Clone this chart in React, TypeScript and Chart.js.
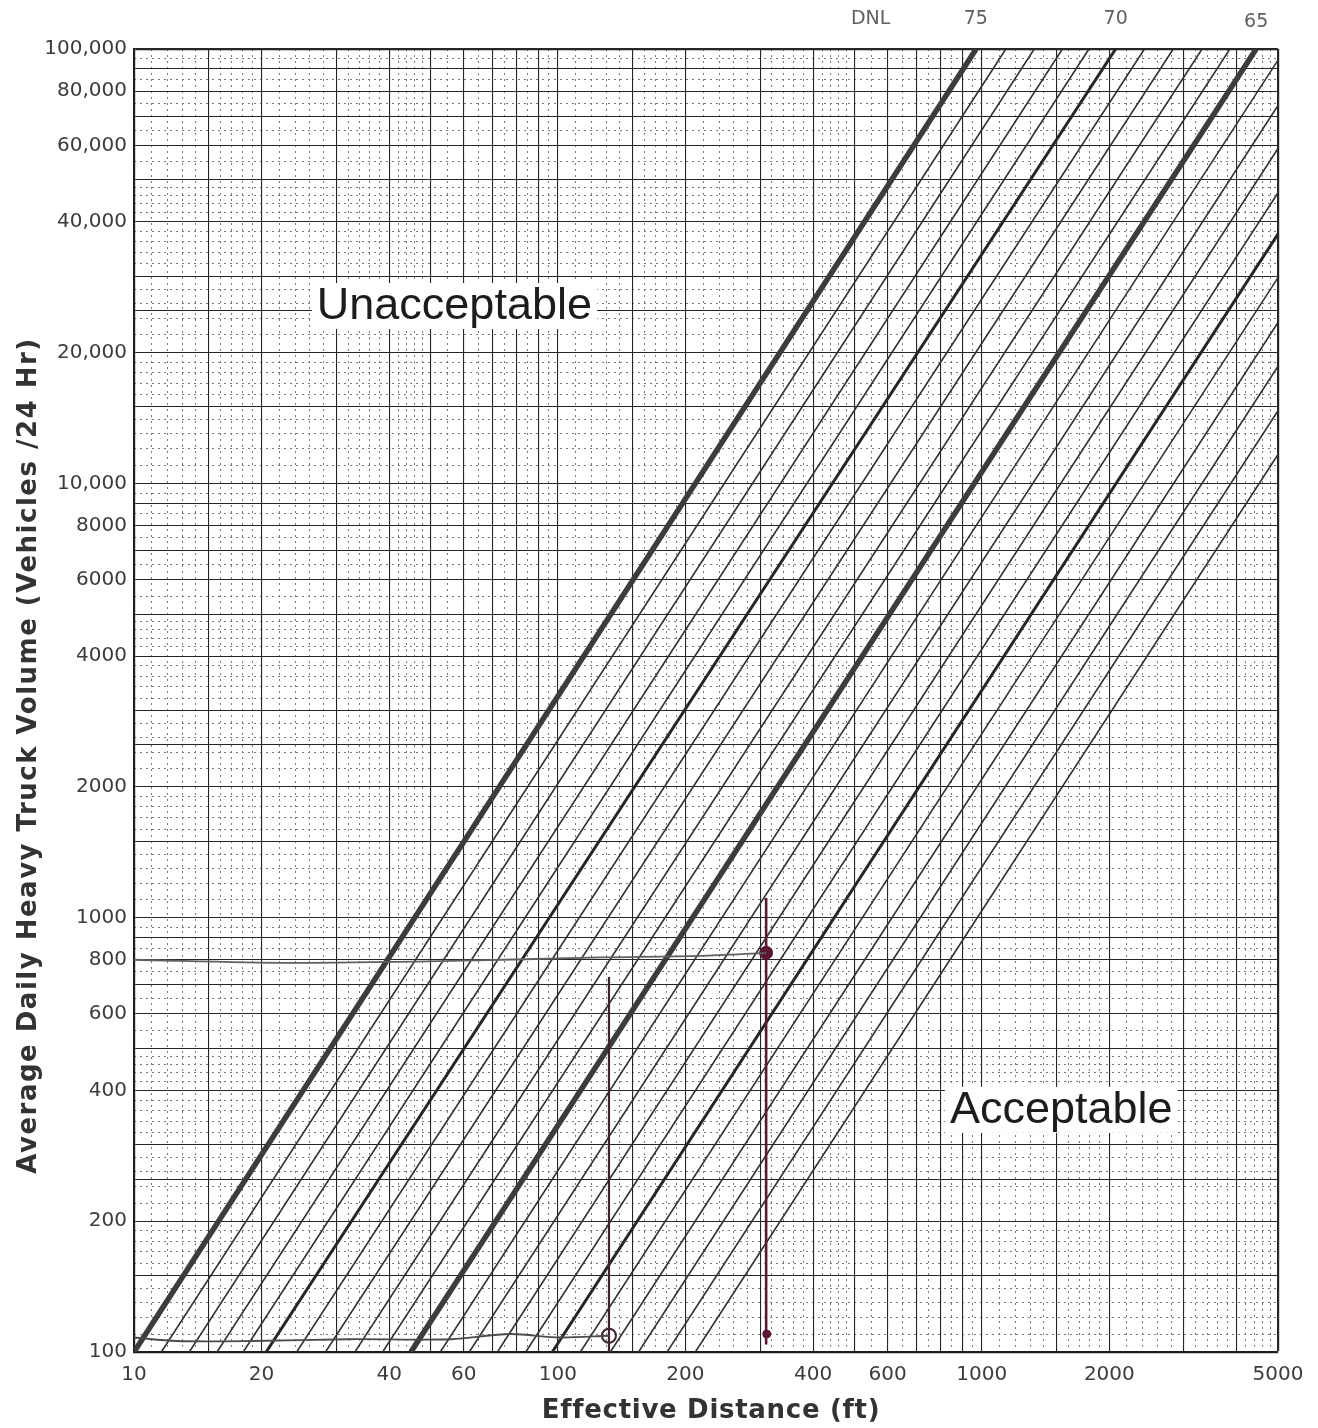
import React, { useEffect, useRef } from 'react';
import { Chart, registerables } from 'chart.js';

Chart.register(...registerables);

// ---------- axis ranges and tick labels ----------
const X_MIN = 10;
const X_MAX = 5000;
const Y_MIN = 100;
const Y_MAX = 100000;

const X_TICK_VALUES = [10, 20, 40, 60, 100, 200, 400, 600, 1000, 2000, 5000];
const X_TICK_LABELS = ['10', '20', '40', '60', '100', '200', '400', '600', '1000', '2000', '5000'];

const Y_TICK_VALUES = [100, 200, 400, 600, 800, 1000, 2000, 4000, 6000, 8000, 10000, 20000, 40000, 60000, 80000, 100000];
const Y_TICK_LABELS = ['100', '200', '400', '600', '800', '1000', '2000', '4000', '6000', '8000', '10,000', '20,000', '40,000', '60,000', '80,000', '100,000'];

// graph-paper rulings (mantissas within each decade)
const X_MAJOR_MANTISSAS = [1, 1.5, 2, 3, 4, 5, 6, 7, 8, 9];
const Y_MAJOR_MANTISSAS = [1, 1.5, 2, 2.5, 3, 4, 5, 6, 7, 8, 9];
const MINOR_MANTISSAS = [1.1, 1.2, 1.3, 1.4, 1.6, 1.7, 1.8, 1.9, 2.2, 2.4, 2.6, 2.8, 3.2, 3.4, 3.6, 3.8, 4.2, 4.4, 4.6, 4.8, 5.5, 6.5, 7.5, 8.5, 9.5];

// ---------- DNL lines ----------
const DNL_LEVELS = [75, 74, 73, 72, 71, 70, 69, 68, 67, 66, 65, 64, 63, 62, 61, 60, 59, 58, 57, 56, 55];
// effective distance (ft) where each DNL line crosses 100 vehicles/24 hr
const DIST_AT_LOW_VOLUME = [10, 11.6, 13.5, 15.7, 18.1, 20.5, 24.2, 28.3, 33.2, 38.6, 45, 52.8, 61.8, 72, 84, 97, 113, 133, 155, 181, 211];
// effective distance (ft) where each DNL line crosses 100,000 vehicles/24 hr
const DIST_AT_HIGH_VOLUME = [970, 1140, 1330, 1550, 1790, 2070, 2420, 2830, 3310, 3850, 4440, 5200, 6100, 7100, 8300, 9600, 11200, 13100, 15300, 17900, 20900];
const LINE_LOW_VOLUME = 100;
const LINE_HIGH_VOLUME = 100000;
const HEAVY_LEVELS = [75, 65];
const MEDIUM_LEVELS = [70, 60];

// ---------- hand-drawn worksheet traces ----------
const TRACE_800_DIST = [10, 23, 56, 126, 217, 310];
const TRACE_800_VOL = [800, 787, 795, 810, 817, 830];
const TRACE_110_DIST = [10, 12.6, 19, 32, 56, 77, 101, 132];
const TRACE_110_VOL = [108, 106, 106, 107, 107, 110, 108, 109];
const DROP_A_DIST = [132, 132];
const DROP_A_VOL = [730, 100];
const DROP_B_DIST = [310, 310];
const DROP_B_VOL = [1110, 104];
const DOT_BIG = { d: 310, v: 830 };
const DOT_SMALL = { d: 311, v: 110 };
const RING = { d: 132, v: 109 };

// ---------- text annotations ----------
const REGION_TEXT = ['Unacceptable', 'Acceptable'];
const REGION_DIST = [57, 1540];
const REGION_VOL = [25600, 361];
const HEADER_TEXT = ['DNL', '75', '70', '65'];
const HEADER_DIST = [547, 968, 2070, 4440];

const X_TITLE = 'Effective Distance (ft)';
const Y_TITLE = 'Average Daily Heavy Truck Volume (Vehicles /24 Hr)';

function rulings(min: number, max: number, mantissas: number[]) {
  const out: number[] = [];
  const e0 = Math.floor(Math.log10(min));
  const e1 = Math.ceil(Math.log10(max));
  for (let e = e0; e <= e1; e++) {
    for (const m of mantissas) {
      const v = parseFloat((m * Math.pow(10, e)).toPrecision(8));
      if (v >= min * 0.99999 && v <= max * 1.00001) out.push(v);
    }
  }
  return out;
}

function labelFor(v: number, values: number[], labels: string[]) {
  for (let i = 0; i < values.length; i++) {
    if (Math.abs(v - values[i]) < values[i] * 1e-6) return labels[i];
  }
  return '';
}

const overlayPlugin = {
  id: 'overlay',
  afterDatasetsDraw(chart: any) {
    const { ctx, chartArea } = chart;
    const xs = chart.scales.x;
    const ys = chart.scales.y;
    ctx.save();
    // region labels with white boxes
    ctx.font = '45px "Liberation Sans", Arial, sans-serif';
    ctx.textAlign = 'center';
    ctx.textBaseline = 'middle';
    for (let i = 0; i < REGION_TEXT.length; i++) {
      const px = xs.getPixelForValue(REGION_DIST[i]);
      const py = ys.getPixelForValue(REGION_VOL[i]);
      const w = ctx.measureText(REGION_TEXT[i]).width;
      ctx.fillStyle = '#ffffff';
      ctx.fillRect(px - w / 2 - 5, py - 23, w + 10, 46);
      ctx.fillStyle = '#1c1c1c';
      ctx.fillText(REGION_TEXT[i], px, py + 1);
    }
    // DNL header
    ctx.font = '19px "DejaVu Sans", sans-serif';
    ctx.fillStyle = '#606060';
    for (let i = 0; i < HEADER_TEXT.length; i++) {
      const px = xs.getPixelForValue(HEADER_DIST[i]);
      ctx.fillText(HEADER_TEXT[i], px, chartArea.top - 30 + (i === 3 ? 3 : 0));
    }
    // x-axis title
    ctx.font = 'bold 26px "DejaVu Sans", sans-serif';
    ctx.fillStyle = '#333333';
    (ctx as any).letterSpacing = '0.7px';
    ctx.fillText(X_TITLE, (chartArea.left + chartArea.right) / 2 + 5, chartArea.bottom + 59);
    // y-axis title
    (ctx as any).letterSpacing = '1.5px';
    ctx.translate(29, (chartArea.top + chartArea.bottom) / 2 + 55);
    ctx.rotate(-Math.PI / 2);
    ctx.fillText(Y_TITLE, 0, 0);
    (ctx as any).letterSpacing = '0px';
    ctx.restore();
  },
};

function buildConfig(): any {
  const xMajor = rulings(X_MIN, X_MAX, X_MAJOR_MANTISSAS);
  const yMajor = rulings(Y_MIN, Y_MAX, Y_MAJOR_MANTISSAS);
  const xMinor = rulings(X_MIN, X_MAX, MINOR_MANTISSAS);
  const yMinor = rulings(Y_MIN, Y_MAX, MINOR_MANTISSAS);

  const annotationSets: any[] = [
    {
      data: TRACE_800_DIST.map((d, i) => ({ x: d, y: TRACE_800_VOL[i] })),
      borderColor: '#5f5f66', borderWidth: 1.8, tension: 0.3, pointRadius: 0, order: 0,
    },
    {
      data: TRACE_110_DIST.map((d, i) => ({ x: d, y: TRACE_110_VOL[i] })),
      borderColor: '#4a4a50', borderWidth: 1.8, tension: 0.3, pointRadius: 0, order: 0,
    },
    {
      data: DROP_A_DIST.map((d, i) => ({ x: d, y: DROP_A_VOL[i] })),
      borderColor: '#3b2330', borderWidth: 2.2, pointRadius: 0, order: 0,
    },
    {
      data: DROP_B_DIST.map((d, i) => ({ x: d, y: DROP_B_VOL[i] })),
      borderColor: '#5a1835', borderWidth: 2.6, pointRadius: 0, order: 0,
    },
    {
      data: [{ x: DOT_BIG.d, y: DOT_BIG.v }],
      showLine: false, pointRadius: 6.5, pointBackgroundColor: '#5a1835', pointBorderColor: '#5a1835', order: 0,
    },
    {
      data: [{ x: DOT_SMALL.d, y: DOT_SMALL.v }],
      showLine: false, pointRadius: 4, pointBackgroundColor: '#5a1835', pointBorderColor: '#5a1835', order: 0,
    },
    {
      data: [{ x: RING.d, y: RING.v }],
      showLine: false, pointRadius: 7, pointBackgroundColor: 'rgba(0,0,0,0)', pointBorderColor: '#3b2330', pointBorderWidth: 2, order: 0,
    },
  ];

  const dnlSets = DNL_LEVELS.map((lvl, i) => {
    const heavy = HEAVY_LEVELS.includes(lvl);
    const medium = MEDIUM_LEVELS.includes(lvl);
    return {
      label: 'DNL ' + lvl,
      data: [
        { x: DIST_AT_LOW_VOLUME[i], y: LINE_LOW_VOLUME },
        { x: DIST_AT_HIGH_VOLUME[i], y: LINE_HIGH_VOLUME },
      ],
      borderColor: heavy ? '#3c3c3c' : medium ? '#262626' : '#303030',
      borderWidth: heavy ? 5.5 : medium ? 3 : 1.6,
      pointRadius: 0,
      clip: 0,
      order: 1,
    };
  });

  return {
    type: 'line',
    data: { datasets: [...annotationSets, ...dnlSets] },
    options: {
      responsive: false,
      animation: false,
      events: [],
      layout: { padding: { top: 49, right: 40, left: 0, bottom: 0 } },
      plugins: { legend: { display: false }, tooltip: { enabled: false } },
      scales: {
        xMinor: {
          type: 'logarithmic', position: 'bottom', min: X_MIN, max: X_MAX,
          afterBuildTicks: (s: any) => { s.ticks = xMinor.map((v) => ({ value: v })); },
          ticks: { display: false },
          grid: { drawTicks: false, color: '#7a7a7a', lineWidth: 1 },
          border: { display: false, dash: [2, 4] },
        },
        yMinor: {
          type: 'logarithmic', position: 'left', min: Y_MIN, max: Y_MAX,
          afterBuildTicks: (s: any) => { s.ticks = yMinor.map((v) => ({ value: v })); },
          ticks: { display: false },
          grid: { drawTicks: false, color: '#7a7a7a', lineWidth: 1 },
          border: { display: false, dash: [2, 4] },
        },
        x: {
          type: 'logarithmic', position: 'bottom', min: X_MIN, max: X_MAX,
          afterBuildTicks: (s: any) => { s.ticks = xMajor.map((v) => ({ value: v })); },
          afterFit: (s: any) => { s.height = 76; },
          ticks: {
            autoSkip: false, maxRotation: 0, minRotation: 0, padding: 11,
            color: '#3c3c3c', font: { family: '"DejaVu Sans", sans-serif', size: 20 },
            callback: (v: number) => labelFor(v, X_TICK_VALUES, X_TICK_LABELS),
          },
          grid: {
            drawTicks: false, color: '#262626',
            lineWidth: (c: any) => (c.tick && Math.abs(c.tick.value - X_MAX) < 1e-6 ? 2.2 : 1.1),
          },
          border: { display: true, color: '#1e1e1e', width: 2.2 },
          title: { display: false },
        },
        y: {
          type: 'logarithmic', position: 'left', min: Y_MIN, max: Y_MAX,
          afterBuildTicks: (s: any) => { s.ticks = yMajor.map((v) => ({ value: v })); },
          afterFit: (s: any) => { s.width = 134; },
          ticks: {
            autoSkip: false, padding: 7,
            color: '#3c3c3c', font: { family: '"DejaVu Sans", sans-serif', size: 20 },
            callback: (v: number) => labelFor(v, Y_TICK_VALUES, Y_TICK_LABELS),
          },
          grid: {
            drawTicks: false, color: '#262626',
            lineWidth: (c: any) => (c.tick && Math.abs(c.tick.value - Y_MAX) < 1e-3 ? 2.2 : 1.1),
          },
          border: { display: true, color: '#1e1e1e', width: 2.2 },
          title: { display: false },
        },
      },
    },
    plugins: [overlayPlugin],
  };
}

export default function App() {
  const ref = useRef<HTMLCanvasElement>(null);
  useEffect(() => {
    document.body.style.margin = '0';
    const chart = new Chart(ref.current as HTMLCanvasElement, buildConfig());
    return () => chart.destroy();
  }, []);
  return (
    <div style={{ width: 1318, height: 1428, background: '#ffffff' }}>
      <canvas ref={ref} width={1318} height={1428} style={{ display: 'block' }} />
    </div>
  );
}
